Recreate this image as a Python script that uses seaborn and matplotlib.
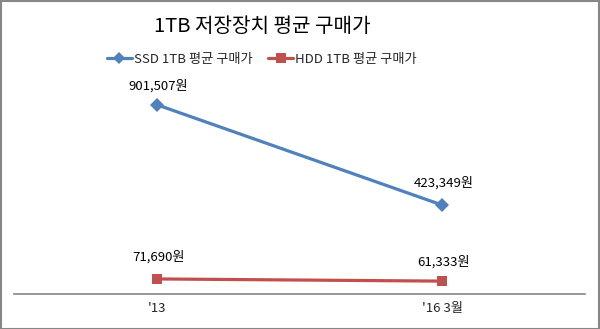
import matplotlib
matplotlib.use("Agg")
import matplotlib.pyplot as plt
import seaborn as sns
import pandas as pd
from matplotlib.patches import Rectangle
from matplotlib.lines import Line2D

categories = ["'13", "'16 3월"]
ssd_values = [901507, 423349]
hdd_values = [71690, 61333]
series_names = ["SSD 1TB 평균 구매가", "HDD 1TB 평균 구매가"]
title_text = "1TB 저장장치 평균 구매가"

sns.set_theme(style="white")
plt.rcParams['font.family'] = ['Noto Sans CJK KR', 'DejaVu Sans']

df = pd.DataFrame({
    "x": list(range(len(categories))) * 2,
    "value": ssd_values + hdd_values,
    "series": [series_names[0]] * len(categories) + [series_names[1]] * len(categories),
})

colors = {series_names[0]: "#4F81BD", series_names[1]: "#C0504D"}
markers = {series_names[0]: "D", series_names[1]: "s"}

fig = plt.figure(figsize=(6.0, 3.29), dpi=100)
ax = fig.add_axes([14/600, (329-294)/329, (585-14)/600, (294-84)/329])

sns.lineplot(data=df, x="x", y="value", hue="series", style="series",
             palette=colors, markers=markers, dashes=False, linewidth=2.3,
             markersize=7, markeredgewidth=0, ax=ax, legend=False)

ax.set_xlim(-0.5, len(categories) - 0.5)
ax.set_ylim(0, 1000000)
ax.set_xticks(range(len(categories)))
ax.set_xticklabels(categories, fontsize=9.5)
ax.tick_params(axis='x', length=0, pad=6)
ax.set_yticks([])
ax.set_xlabel("")
ax.set_ylabel("")
for s in ["left", "top", "right"]:
    ax.spines[s].set_visible(False)
ax.spines["bottom"].set_color("#868686")
ax.spines["bottom"].set_linewidth(1.2)

# data labels
for vals, offs in ((ssd_values, (18, 21)), (hdd_values, (21, 18))):
    for i, v in enumerate(vals):
        ax.annotate(f"{v:,}원", (i, v), xytext=(1, offs[i] * 0.75), textcoords="offset points",
                    ha="center", va="center", fontsize=9.5, color="black")

# title
fig.text(262/600, 1 - 26/329, title_text, ha="center", va="center", fontsize=14.5, color="black")

# legend
handles = [Line2D([], [], color=colors[n], marker=markers[n], linewidth=2.3,
                  markersize=6.5, markeredgewidth=0) for n in series_names]
fig.legend(handles, series_names, loc="center", bbox_to_anchor=(262/600, 1 - 59/329),
           ncol=2, frameon=False, fontsize=9.5, handlelength=1.9, handletextpad=0.15,
           columnspacing=1.2)

# border
fig.add_artist(Rectangle((0.5/600, 0.5/329), 598.5/600, 327.5/329, transform=fig.transFigure,
                         fill=False, edgecolor="#868686", linewidth=1.5))

fig.savefig("out.png", dpi=100)
